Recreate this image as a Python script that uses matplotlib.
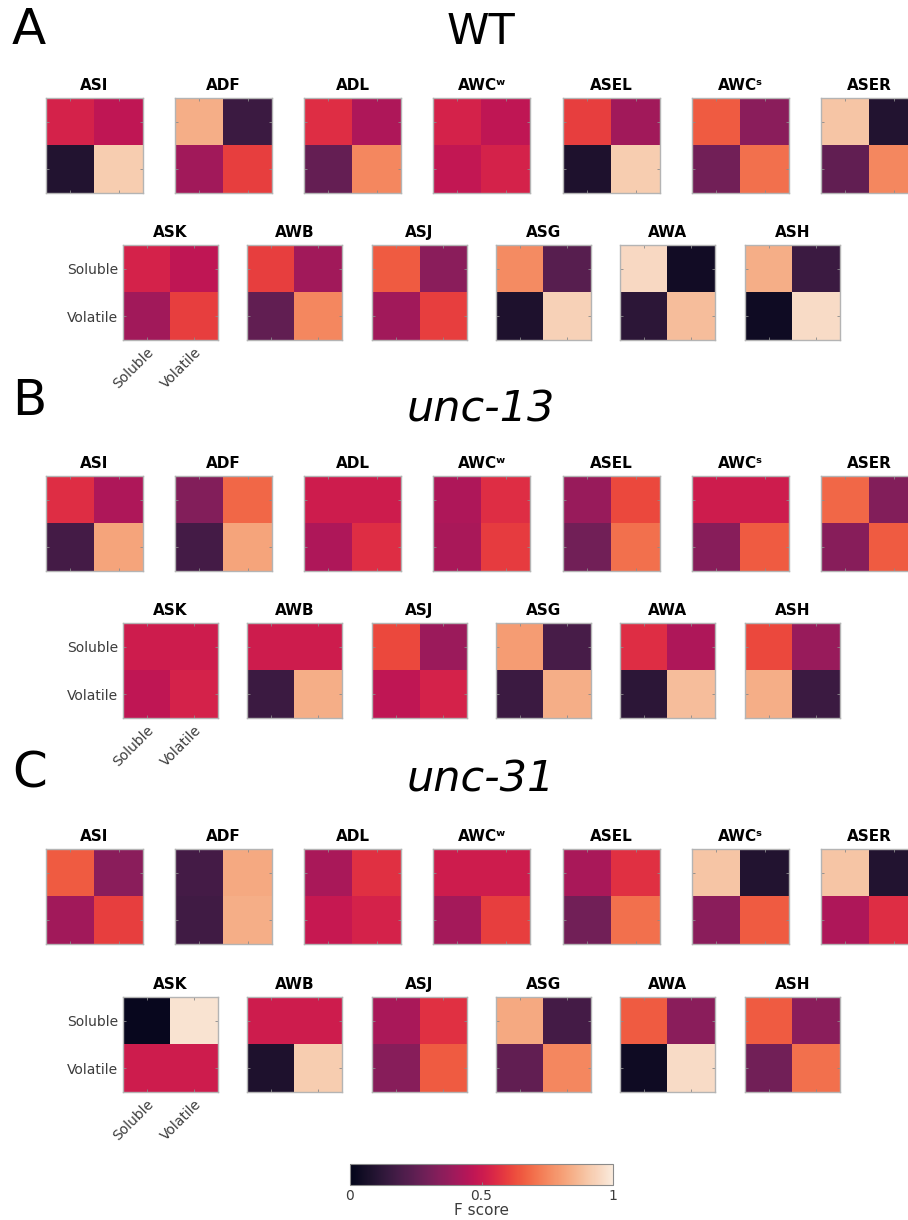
import matplotlib
matplotlib.use("Agg")
import matplotlib.pyplot as plt
import numpy as np
import seaborn as sns

plt.rcParams["font.family"] = ["DejaVu Sans"]

# neuron names for the two rows of each panel
row1_names = ["ASI", "ADF", "ADL", "AWC\u02b7", "ASEL", "AWC\u02e2", "ASER"]
row2_names = ["ASK", "AWB", "ASJ", "ASG", "AWA", "ASH"]
class_labels = ["Soluble", "Volatile"]
genotypes = ["WT", "unc-13", "unc-31"]
panel_letters = ["A", "B", "C"]

# F scores, 2x2 per neuron: [[sol->sol, sol->vol], [vol->sol, vol->vol]]
wt_row1 = [
    [[0.53, 0.47], [0.09, 0.92]],
    [[0.84, 0.16], [0.40, 0.60]],
    [[0.56, 0.43], [0.26, 0.75]],
    [[0.53, 0.47], [0.48, 0.53]],
    [[0.60, 0.40], [0.08, 0.92]],
    [[0.66, 0.35], [0.29, 0.70]],
    [[0.90, 0.09], [0.25, 0.75]],
]
wt_row2 = [
    [[0.53, 0.47], [0.40, 0.60]],
    [[0.60, 0.40], [0.25, 0.75]],
    [[0.66, 0.35], [0.40, 0.60]],
    [[0.76, 0.23], [0.08, 0.93]],
    [[0.95, 0.05], [0.12, 0.88]],
    [[0.84, 0.16], [0.04, 0.96]],
]
unc13_row1 = [
    [[0.56, 0.43], [0.18, 0.82]],
    [[0.33, 0.68], [0.18, 0.82]],
    [[0.51, 0.51], [0.43, 0.56]],
    [[0.43, 0.56], [0.42, 0.59]],
    [[0.38, 0.62], [0.29, 0.70]],
    [[0.51, 0.51], [0.34, 0.66]],
    [[0.68, 0.33], [0.34, 0.66]],
]
unc13_row2 = [
    [[0.51, 0.51], [0.47, 0.53]],
    [[0.51, 0.51], [0.16, 0.84]],
    [[0.62, 0.39], [0.47, 0.53]],
    [[0.80, 0.19], [0.16, 0.84]],
    [[0.56, 0.43], [0.12, 0.88]],
    [[0.62, 0.38], [0.84, 0.16]],
]
unc31_row1 = [
    [[0.66, 0.35], [0.40, 0.60]],
    [[0.18, 0.83], [0.17, 0.84]],
    [[0.42, 0.57], [0.49, 0.53]],
    [[0.51, 0.51], [0.41, 0.60]],
    [[0.42, 0.57], [0.29, 0.70]],
    [[0.90, 0.09], [0.35, 0.66]],
    [[0.90, 0.09], [0.43, 0.56]],
]
unc31_row2 = [
    [[0.02, 0.98], [0.51, 0.51]],
    [[0.51, 0.51], [0.08, 0.92]],
    [[0.42, 0.57], [0.34, 0.66]],
    [[0.83, 0.18], [0.25, 0.75]],
    [[0.66, 0.35], [0.04, 0.96]],
    [[0.66, 0.35], [0.29, 0.70]],
]
panels = [(wt_row1, wt_row2), (unc13_row1, unc13_row2), (unc31_row1, unc31_row2)]

W, H = 908, 1220
cmap = sns.color_palette("rocket", as_cmap=True)
EDGE = "#b4b4b4"

row1_x = [46, 175, 304, 433, 563, 692, 821]
row2_x = [123, 247, 372, 496, 620, 745]
panel_tops = [(98, 245), (476, 623), (849, 997)]
panel_title_y = [32, 410, 780]
panel_letter_y = [30, 401, 773]


def px_axes(fig, x, y, w, h):
    return fig.add_axes([x / W, 1 - (y + h) / H, w / W, h / H])


def draw_matrix(ax, vals, name, show_labels=False):
    im = ax.imshow(np.array(vals), cmap=cmap, vmin=0, vmax=1, aspect="auto",
                   interpolation="nearest")
    ax.set_xticks([0, 1])
    ax.set_yticks([0, 1])
    ax.tick_params(direction="in", length=2.5, width=0.6, color="#8a8a8a",
                   top=True, right=True, labelsize=10, labelcolor="#3c3c3c")
    if show_labels:
        ax.set_yticklabels(class_labels)
        ax.set_xticklabels(class_labels, rotation=45, ha="right", rotation_mode="anchor")
    else:
        ax.set_xticklabels([])
        ax.set_yticklabels([])
    for s in ax.spines.values():
        s.set_color(EDGE)
        s.set_linewidth(1.0)
    ax.set_title(name, fontsize=11, fontweight="bold", pad=6)
    return im


fig = plt.figure(figsize=(W / 100, H / 100), dpi=100)

im = None
for p, (r1, r2) in enumerate(panels):
    top1, top2 = panel_tops[p]
    for i, vals in enumerate(r1):
        ax = px_axes(fig, row1_x[i], top1, 97, 95)
        im = draw_matrix(ax, vals, row1_names[i])
    for i, vals in enumerate(r2):
        ax = px_axes(fig, row2_x[i], top2, 95, 95)
        draw_matrix(ax, vals, row2_names[i], show_labels=(i == 0))

    fig.text(12 / W, 1 - panel_letter_y[p] / H, panel_letters[p], fontsize=36,
             ha="left", va="center")
    style = "normal" if p == 0 else "italic"
    fig.text(481 / W, 1 - panel_title_y[p] / H, genotypes[p], fontsize=31,
             ha="center", va="center", style=style)

# colorbar
cax = px_axes(fig, 350, 1164, 263, 21)
cb = fig.colorbar(im, cax=cax, orientation="horizontal", ticks=[0, 0.5, 1])
cb.ax.set_xticklabels(["0", "0.5", "1"])
cb.ax.tick_params(direction="in", length=2.5, width=0.6, color="#8a8a8a",
                  labelsize=10, labelcolor="#3c3c3c", pad=3)
cb.outline.set_edgecolor("#8a8a8a")
cb.set_label("F score", fontsize=11, color="#3c3c3c", labelpad=0)

fig.savefig("out.png", dpi=100)
